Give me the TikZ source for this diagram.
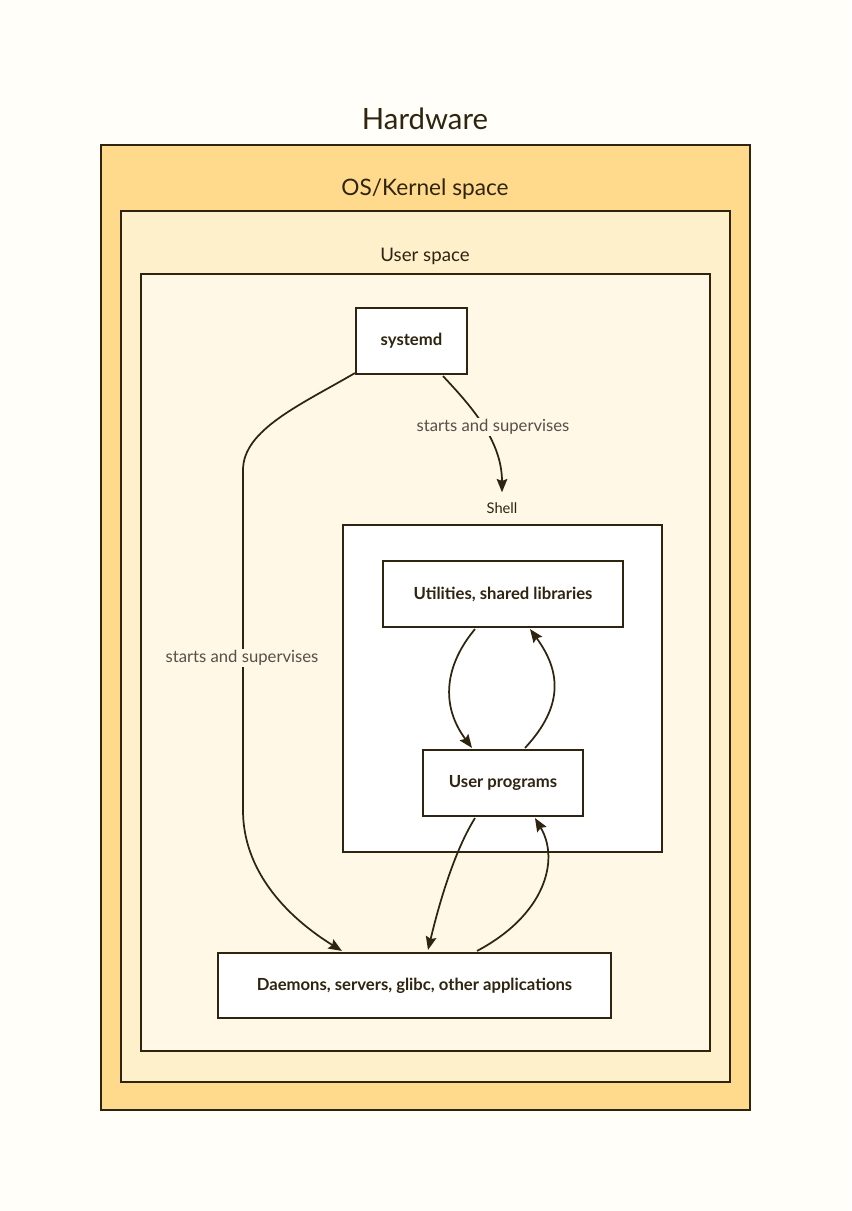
\documentclass[tikz,border=0pt]{standalone}
\usepackage{fontspec}
\setmainfont{Lato}
\usetikzlibrary{arrows.meta,calc}
\definecolor{bgc}{HTML}{FFFEF8}
\definecolor{hwc}{HTML}{FFDA8C}
\definecolor{krc}{HTML}{FFF0CC}
\definecolor{usc}{HTML}{FFF8E6}
\definecolor{ink}{HTML}{2E2410}
\definecolor{lblc}{HTML}{555049}
\tikzset{
  layer/.style={draw=ink, line width=1.6pt, inner sep=0pt},
  box/.style={draw=ink, fill=white, line width=1.6pt, inner sep=0pt, font=\fontsize{12.5}{14}\selectfont\bfseries, text=ink},
  arr/.style={draw=ink, line width=1.3pt, -{Stealth[length=10pt,width=8pt,inset=1.5pt]}},
  elbl/.style={font=\fontsize{12.5}{14}\selectfont, text=lblc, inner sep=1pt},
  ttl/.style={text=ink, inner sep=0pt}
}
\begin{document}
\begin{tikzpicture}[x=0.75pt,y=-0.75pt]
\fill[bgc] (0,0) rectangle (851,1211);
\useasboundingbox (0,0) rectangle (851,1211);
% layers
\node[layer, fill=hwc, minimum width={649*0.75pt}, minimum height={965*0.75pt}] (hw) at (425.5,627.5) {};
\node[ttl, font=\fontsize{22}{24}\selectfont] (hwl) at (425,119) {Hardware};
\node[layer, fill=krc, minimum width={609*0.75pt}, minimum height={871*0.75pt}] (kr) at (425.5,646.5) {};
\node[ttl, font=\fontsize{17}{20}\selectfont] (krl) at (425,189) {OS/Kernel space};
\node[layer, fill=usc, minimum width={569*0.75pt}, minimum height={777*0.75pt}] (us) at (425.5,662.5) {};
\node[ttl, font=\fontsize{14}{16}\selectfont] (usl) at (425,256) {User space};
% shell
\node[layer, fill=white, minimum width={319*0.75pt}, minimum height={327*0.75pt}] (sh) at (502.5,688.5) {};
\node[ttl, font=\fontsize{11}{12}\selectfont] (shl) at (502,508) {Shell};
% nodes
\node[box, minimum width={111*0.75pt}, minimum height={66*0.75pt}] (sd) at (411.5,341) {systemd};
\node[box, minimum width={240*0.75pt}, minimum height={66*0.75pt}] (ut) at (503,594) {Utilities, shared libraries};
\node[box, minimum width={160*0.75pt}, minimum height={66*0.75pt}] (up) at (503,783) {User programs};
\node[box, minimum width={393*0.75pt}, minimum height={65*0.75pt}] (dm) at (414.5,985.5) {Daemons, servers, glibc, other applications};
% edges
\draw[arr] ($(sd.south)+(31.5,1)$) .. controls (470,405) and (502,440) .. ($(shl.north)+(0,-10)$);
\node[elbl, fill=usc] (l1) at (493,427) {starts and supervises};
\draw[arr] ($(sd.south west)+(0,-2)$) .. controls (300,405) and (243,430) .. (243,470) -- (243,810) .. controls (243,880) and (300,925) .. ($(dm.north west)+(125,-1)$);
\node[elbl, fill=usc] (l2) at (242,658) {starts and supervises};
\draw[arr] ($(ut.south)+(-28,1)$) .. controls (445,665) and (440,705) .. ($(up.north)+(-31,-1)$);
\draw[arr] ($(up.north)+(22,-1)$) .. controls (565,705) and (560,670) .. ($(ut.south)+(27,1)$);
\draw[arr] ($(up.south)+(-28,1)$) .. controls (455,850) and (440,900) .. ($(dm.north)+(13.5,-2)$);
\draw[arr] ($(dm.north)+(62.5,-1)$) .. controls (545,915) and (560,860) .. ($(up.south)+(32,1)$);
\end{tikzpicture}
\end{document}
